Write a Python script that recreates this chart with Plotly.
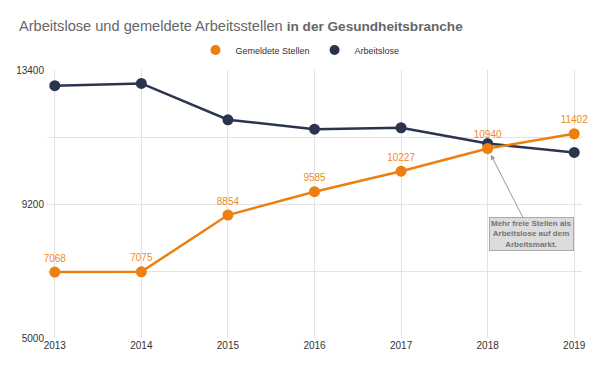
import plotly.graph_objects as go

years = [2013, 2014, 2015, 2016, 2017, 2018, 2019]
stellen = [7068, 7075, 8854, 9585, 10227, 10940, 11402]
arbeitslose = [12910, 12980, 11840, 11545, 11590, 11095, 10815]
y_tickvals = [5000, 7100, 9200, 11300, 13400]
y_ticktext = ["5000", "", "9200", "", "13400"]

ORANGE = "#EC7F0E"
NAVY = "#2B344E"
FONT = "Liberation Sans, Arial, sans-serif"

# the page body has an 8px margin; the figure is sized to fit the window
OFF = 8
W, H = 600 - OFF, 370 - OFF

fig = go.Figure()
fig.add_trace(go.Scatter(
    x=years, y=arbeitslose, mode="lines+markers", name="Arbeitslose",
    line=dict(color=NAVY, width=2.5), marker=dict(color=NAVY, size=11),
    showlegend=False, cliponaxis=False))
fig.add_trace(go.Scatter(
    x=years, y=stellen, mode="lines+markers+text", name="Gemeldete Stellen",
    line=dict(color=ORANGE, width=2.5), marker=dict(color=ORANGE, size=11),
    text=[str(v) for v in stellen], textposition="top center",
    textfont=dict(color="#EF8A22", size=10, family=FONT),
    showlegend=False, cliponaxis=False))
# legend-only dot entries
fig.add_trace(go.Scatter(x=[None], y=[None], mode="markers", name="Gemeldete Stellen",
                         marker=dict(color=ORANGE, size=10)))
fig.add_trace(go.Scatter(x=[None], y=[None], mode="markers", name="Arbeitslose",
                         marker=dict(color=NAVY, size=10)))

fig.add_annotation(
    x=2018, y=stellen[5], xref="x", yref="y",
    text="<b>Mehr freie Stellen als<br>Arbeitslose auf dem<br>Arbeitsmarkt.</b>",
    showarrow=True, ax=44, ay=86, arrowhead=2, arrowsize=1, arrowwidth=1,
    arrowcolor="#999999", standoff=7,
    font=dict(size=8, color="#737373", family=FONT),
    bgcolor="#DCDCDC", bordercolor="#AAAAAA", borderwidth=1, borderpad=1,
    align="center")

fig.update_layout(
    width=W, height=H,
    margin=dict(l=47 - OFF, r=18, t=70 - OFF, b=H - (338 - OFF), autoexpand=False),
    paper_bgcolor="white", plot_bgcolor="white",
    font=dict(family=FONT, size=11, color="#333333"),
    title=dict(
        text=("Arbeitslose und gemeldete Arbeitsstellen "
              "<b><span style='font-size:13.6px'>in der Gesundheitsbranche</span></b>"),
        x=(19 - OFF) / W, xanchor="left", xref="container",
        y=1 - (26 - OFF) / H, yanchor="middle", yref="container",
        font=dict(size=14.6, color="#666666", family=FONT)),
    legend=dict(orientation="h", x=(300 - OFF) / W, xanchor="center", xref="container",
                y=1 - (50 - OFF) / H, yanchor="middle", yref="container",
                font=dict(size=9, color="#333333"), itemwidth=30,
                bgcolor="rgba(0,0,0,0)"),
    showlegend=True,
)
fig.update_xaxes(
    range=[2012.91, 2019.09], tickvals=years, ticktext=[str(y) for y in years],
    showgrid=True, gridcolor="#E3E3E3", gridwidth=1, zeroline=False,
    showline=False, ticks="", automargin=False, tickfont=dict(size=10, color="#333333"))
fig.update_yaxes(
    range=[5000, 13400], tickvals=y_tickvals, ticktext=y_ticktext,
    showgrid=True, gridcolor="#E3E3E3", gridwidth=1, zeroline=False,
    showline=False, ticks="", automargin=False, ticklabelstandoff=2,
    tickfont=dict(size=10, color="#333333"))

fig.write_html("out.html")
